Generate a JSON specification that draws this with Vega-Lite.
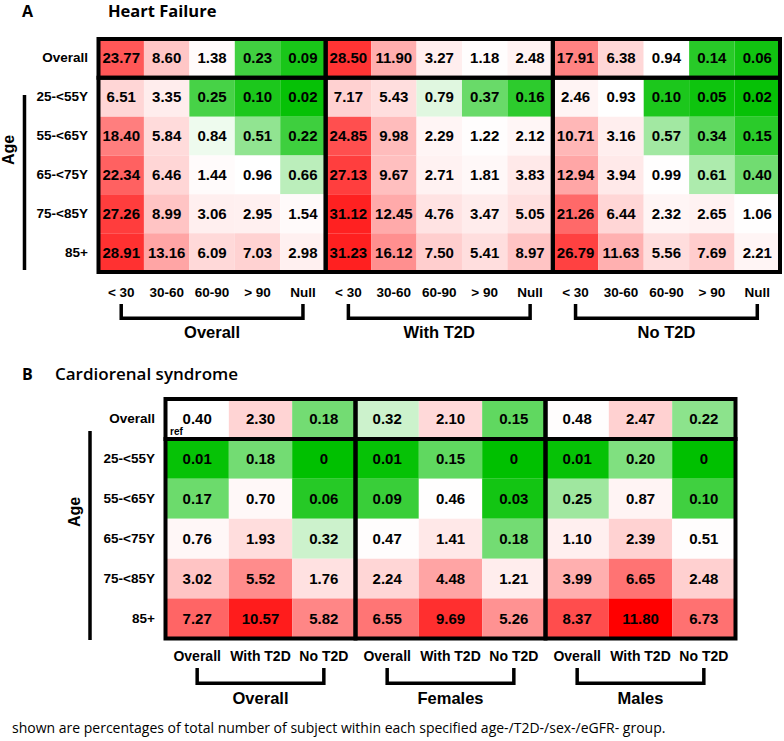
{
  "$schema": "https://vega.github.io/schema/vega-lite/v6.json",
  "width": 784,
  "height": 741,
  "autosize": {"type": "fit", "contains": "padding"},
  "padding": 0,
  "background": "white",
  "config": {"view": {"stroke": null}, "axis": {"disable": true}, "text": {"font": "Liberation Sans", "color": "black"}},
  "datasets": {
    "hf": [
      {"grp": "Overall", "age": "Overall", "< 30": 23.77, "30-60": 8.60, "60-90": 1.38, "> 90": 0.23, "Null": 0.09},
      {"grp": "Overall", "age": "25-<55Y", "< 30": 6.51, "30-60": 3.35, "60-90": 0.25, "> 90": 0.10, "Null": 0.02},
      {"grp": "Overall", "age": "55-<65Y", "< 30": 18.40, "30-60": 5.84, "60-90": 0.84, "> 90": 0.51, "Null": 0.22},
      {"grp": "Overall", "age": "65-<75Y", "< 30": 22.34, "30-60": 6.46, "60-90": 1.44, "> 90": 0.96, "Null": 0.66},
      {"grp": "Overall", "age": "75-<85Y", "< 30": 27.26, "30-60": 8.99, "60-90": 3.06, "> 90": 2.95, "Null": 1.54},
      {"grp": "Overall", "age": "85+", "< 30": 28.91, "30-60": 13.16, "60-90": 6.09, "> 90": 7.03, "Null": 2.98},
      {"grp": "With T2D", "age": "Overall", "< 30": 28.50, "30-60": 11.90, "60-90": 3.27, "> 90": 1.18, "Null": 2.48},
      {"grp": "With T2D", "age": "25-<55Y", "< 30": 7.17, "30-60": 5.43, "60-90": 0.79, "> 90": 0.37, "Null": 0.16},
      {"grp": "With T2D", "age": "55-<65Y", "< 30": 24.85, "30-60": 9.98, "60-90": 2.29, "> 90": 1.22, "Null": 2.12},
      {"grp": "With T2D", "age": "65-<75Y", "< 30": 27.13, "30-60": 9.67, "60-90": 2.71, "> 90": 1.81, "Null": 3.83},
      {"grp": "With T2D", "age": "75-<85Y", "< 30": 31.12, "30-60": 12.45, "60-90": 4.76, "> 90": 3.47, "Null": 5.05},
      {"grp": "With T2D", "age": "85+", "< 30": 31.23, "30-60": 16.12, "60-90": 7.50, "> 90": 5.41, "Null": 8.97},
      {"grp": "No T2D", "age": "Overall", "< 30": 17.91, "30-60": 6.38, "60-90": 0.94, "> 90": 0.14, "Null": 0.06},
      {"grp": "No T2D", "age": "25-<55Y", "< 30": 2.46, "30-60": 0.93, "60-90": 0.10, "> 90": 0.05, "Null": 0.02},
      {"grp": "No T2D", "age": "55-<65Y", "< 30": 10.71, "30-60": 3.16, "60-90": 0.57, "> 90": 0.34, "Null": 0.15},
      {"grp": "No T2D", "age": "65-<75Y", "< 30": 12.94, "30-60": 3.94, "60-90": 0.99, "> 90": 0.61, "Null": 0.40},
      {"grp": "No T2D", "age": "75-<85Y", "< 30": 21.26, "30-60": 6.44, "60-90": 2.32, "> 90": 2.65, "Null": 1.06},
      {"grp": "No T2D", "age": "85+", "< 30": 26.79, "30-60": 11.63, "60-90": 5.56, "> 90": 7.69, "Null": 2.21}
    ],
    "crs": [
      {"grp": "Overall", "age": "Overall", "Overall": 0.40, "With T2D": 2.30, "No T2D": 0.18},
      {"grp": "Overall", "age": "25-<55Y", "Overall": 0.01, "With T2D": 0.18, "No T2D": 0},
      {"grp": "Overall", "age": "55-<65Y", "Overall": 0.17, "With T2D": 0.70, "No T2D": 0.06},
      {"grp": "Overall", "age": "65-<75Y", "Overall": 0.76, "With T2D": 1.93, "No T2D": 0.32},
      {"grp": "Overall", "age": "75-<85Y", "Overall": 3.02, "With T2D": 5.52, "No T2D": 1.76},
      {"grp": "Overall", "age": "85+", "Overall": 7.27, "With T2D": 10.57, "No T2D": 5.82},
      {"grp": "Females", "age": "Overall", "Overall": 0.32, "With T2D": 2.10, "No T2D": 0.15},
      {"grp": "Females", "age": "25-<55Y", "Overall": 0.01, "With T2D": 0.15, "No T2D": 0},
      {"grp": "Females", "age": "55-<65Y", "Overall": 0.09, "With T2D": 0.46, "No T2D": 0.03},
      {"grp": "Females", "age": "65-<75Y", "Overall": 0.47, "With T2D": 1.41, "No T2D": 0.18},
      {"grp": "Females", "age": "75-<85Y", "Overall": 2.24, "With T2D": 4.48, "No T2D": 1.21},
      {"grp": "Females", "age": "85+", "Overall": 6.55, "With T2D": 9.69, "No T2D": 5.26},
      {"grp": "Males", "age": "Overall", "Overall": 0.48, "With T2D": 2.47, "No T2D": 0.22},
      {"grp": "Males", "age": "25-<55Y", "Overall": 0.01, "With T2D": 0.20, "No T2D": 0},
      {"grp": "Males", "age": "55-<65Y", "Overall": 0.25, "With T2D": 0.87, "No T2D": 0.10},
      {"grp": "Males", "age": "65-<75Y", "Overall": 1.10, "With T2D": 2.39, "No T2D": 0.51},
      {"grp": "Males", "age": "75-<85Y", "Overall": 3.99, "With T2D": 6.65, "No T2D": 2.48},
      {"grp": "Males", "age": "85+", "Overall": 8.37, "With T2D": 11.80, "No T2D": 6.73}
    ],
    "notes": [
      {"panel": "A", "letter": "A", "title": "Heart Failure", "axis": "Age"},
      {"panel": "B", "letter": "B", "title": "Cardiorenal syndrome", "axis": "Age", "ref": "ref", "footnote": "shown are percentages of total number of subject within each specified age-/T2D-/sex-/eGFR- group."}
    ]
  },
  "resolve": {"scale": {"x": "independent", "y": "independent", "xOffset": "independent", "color": "independent"}},
  "layer": [
    {
      "data": {"name": "hf"},
      "transform": [{"fold": ["< 30", "30-60", "60-90", "> 90", "Null"], "as": ["egfr", "v"]}],
      "encoding": {
        "x": {"field": "grp", "type": "nominal", "axis": null, "scale": {"type": "band", "domain": ["Overall", "With T2D", "No T2D"], "range": [98.5, 780], "paddingInner": 0, "paddingOuter": 0}},
        "xOffset": {"field": "egfr", "type": "nominal", "scale": {"type": "band", "domain": ["< 30", "30-60", "60-90", "> 90", "Null"], "paddingInner": 0, "paddingOuter": 0}},
        "y": {"field": "age", "type": "nominal", "axis": null, "scale": {"type": "band", "domain": ["Overall", "25-<55Y", "55-<65Y", "65-<75Y", "75-<85Y", "85+"], "range": [39, 272], "paddingInner": 0, "paddingOuter": 0}}
      },
      "layer": [
        {"mark": {"type": "rect", "strokeWidth": 0}, "encoding": {"color": {"field": "v", "type": "quantitative", "legend": null, "scale": {"type": "linear", "domain": [0, 0.9, 31.23], "range": ["#00c000", "#ffffff", "#ff2020"], "interpolate": "rgb"}}}},
        {"mark": {"type": "text", "fontWeight": "bold", "fontSize": 15, "baseline": "middle"}, "encoding": {"text": {"field": "v", "type": "quantitative", "format": ".2f"}}}
      ]
    },
    {
      "data": {"name": "hf"},
      "transform": [{"filter": "datum.age === 'Overall'"}, {"fold": ["< 30", "30-60", "60-90", "> 90", "Null"], "as": ["egfr", "v"]}],
      "encoding": {
        "x": {"field": "grp", "type": "nominal", "axis": null, "scale": {"type": "band", "domain": ["Overall", "With T2D", "No T2D"], "range": [98.5, 780], "paddingInner": 0, "paddingOuter": 0}}
      },
      "layer": [
        {"mark": {"type": "text", "fontWeight": "bold", "fontSize": 13.5, "baseline": "middle"},
         "encoding": {"xOffset": {"field": "egfr", "type": "nominal", "scale": {"type": "band", "domain": ["< 30", "30-60", "60-90", "> 90", "Null"], "paddingInner": 0, "paddingOuter": 0}},
                      "y": {"datum": 6.541, "type": "quantitative", "axis": null, "scale": {"type": "linear", "domain": [0, 6], "range": [39, 272], "nice": false, "zero": false}},
                      "text": {"field": "egfr"}}},
        {"transform": [{"filter": "datum.egfr === '< 30' || datum.egfr === 'Null'"}],
         "mark": {"type": "rule", "strokeWidth": 3.5, "color": "black"},
         "encoding": {"xOffset": {"field": "egfr", "type": "nominal", "scale": {"type": "band", "domain": ["< 30", "30-60", "60-90", "> 90", "Null"], "paddingInner": 0, "paddingOuter": 0}},
                      "y": {"datum": 6.824, "type": "quantitative", "axis": null, "scale": {"type": "linear", "domain": [0, 6], "range": [39, 272], "nice": false, "zero": false}},
                      "y2": {"datum": 7.236}}},
        {"transform": [{"filter": "datum.egfr === '< 30'"}],
         "mark": {"type": "rect", "fillOpacity": 0, "stroke": "black", "strokeWidth": 4},
         "encoding": {"y": {"datum": 0, "type": "quantitative", "axis": null, "scale": {"type": "linear", "domain": [0, 6], "range": [39, 272], "nice": false, "zero": false}}, "y2": {"datum": 1}}},
        {"transform": [{"filter": "datum.egfr === '< 30'"}],
         "mark": {"type": "rect", "fillOpacity": 0, "stroke": "black", "strokeWidth": 4},
         "encoding": {"y": {"datum": 1, "type": "quantitative", "axis": null, "scale": {"type": "linear", "domain": [0, 6], "range": [39, 272], "nice": false, "zero": false}}, "y2": {"datum": 6}}}
      ]
    },
    {
      "data": {"name": "hf"},
      "transform": [{"filter": "datum.age === 'Overall'"}],
      "encoding": {
        "x": {"field": "grp", "type": "nominal", "axis": null, "scale": {"type": "band", "domain": ["Overall", "With T2D", "No T2D"], "range": [121.2, 757.3], "paddingInner": 0.2, "paddingOuter": 0}}
      },
      "layer": [
        {"mark": {"type": "rect", "color": "black"},
         "encoding": {"y": {"datum": 7.146, "type": "quantitative", "axis": null, "scale": {"type": "linear", "domain": [0, 6], "range": [39, 272], "nice": false, "zero": false}}, "y2": {"datum": 7.236}}},
        {"mark": {"type": "text", "fontWeight": "bold", "fontSize": 16.5, "baseline": "middle"},
         "encoding": {"y": {"datum": 7.571, "type": "quantitative", "axis": null, "scale": {"type": "linear", "domain": [0, 6], "range": [39, 272], "nice": false, "zero": false}}, "text": {"field": "grp"}}}
      ]
    },
    {
      "data": {"name": "hf"},
      "transform": [{"filter": "datum.grp === 'Overall'"}],
      "mark": {"type": "text", "fontWeight": "bold", "fontSize": 13.5, "align": "right", "baseline": "middle"},
      "encoding": {
        "x": {"datum": -0.231, "type": "quantitative", "axis": null, "scale": {"type": "linear", "domain": [0, 15], "range": [98.5, 780], "nice": false, "zero": false}},
        "y": {"field": "age", "type": "nominal", "axis": null, "scale": {"type": "band", "domain": ["Overall", "25-<55Y", "55-<65Y", "65-<75Y", "75-<85Y", "85+"], "range": [39, 272], "paddingInner": 0, "paddingOuter": 0}},
        "text": {"field": "age"}
      }
    },
    {
      "data": {"name": "notes"},
      "transform": [{"filter": "datum.panel === 'A'"}],
      "layer": [
        {"mark": {"type": "text", "font": "Open Sans", "fontWeight": "bold", "fontSize": 16, "baseline": "alphabetic"},
         "encoding": {"x": {"datum": -1.563, "type": "quantitative", "axis": null, "scale": {"type": "linear", "domain": [0, 15], "range": [98.5, 780], "nice": false, "zero": false}},
                      "y": {"datum": -0.579, "type": "quantitative", "axis": null, "scale": {"type": "linear", "domain": [0, 6], "range": [39, 272], "nice": false, "zero": false}},
                      "text": {"field": "letter"}}},
        {"mark": {"type": "text", "font": "Open Sans", "fontWeight": "bold", "fontSize": 16.5, "align": "left", "baseline": "alphabetic"},
         "encoding": {"x": {"datum": 0.209, "type": "quantitative"}, "y": {"datum": -0.579, "type": "quantitative"}, "text": {"field": "title"}}},
        {"mark": {"type": "text", "fontWeight": "bold", "fontSize": 16, "angle": 270, "baseline": "middle"},
         "encoding": {"x": {"datum": -1.97, "type": "quantitative"}, "y": {"datum": 2.858, "type": "quantitative"}, "text": {"field": "axis"}}},
        {"mark": {"type": "rule", "strokeWidth": 3.5, "color": "black"},
         "encoding": {"x": {"datum": -1.629, "type": "quantitative"}, "y": {"datum": 1.442, "type": "quantitative"}, "y2": {"datum": 5.948}}}
      ]
    },
    {
      "data": {"name": "crs"},
      "transform": [{"fold": ["Overall", "With T2D", "No T2D"], "as": ["sub", "v"]}],
      "encoding": {
        "x": {"field": "grp", "type": "nominal", "axis": null, "scale": {"type": "band", "domain": ["Overall", "Females", "Males"], "range": [165.5, 735.5], "paddingInner": 0, "paddingOuter": 0}},
        "xOffset": {"field": "sub", "type": "nominal", "scale": {"type": "band", "domain": ["Overall", "With T2D", "No T2D"], "paddingInner": 0, "paddingOuter": 0}},
        "y": {"field": "age", "type": "nominal", "axis": null, "scale": {"type": "band", "domain": ["Overall", "25-<55Y", "55-<65Y", "65-<75Y", "75-<85Y", "85+"], "range": [399, 638.5], "paddingInner": 0, "paddingOuter": 0}}
      },
      "layer": [
        {"mark": {"type": "rect", "strokeWidth": 0}, "encoding": {"color": {"field": "v", "type": "quantitative", "legend": null, "scale": {"type": "linear", "domain": [0, 0.4, 11.8], "range": ["#00c000", "#ffffff", "#ff0000"], "interpolate": "rgb"}}}},
        {"mark": {"type": "text", "fontWeight": "bold", "fontSize": 15, "baseline": "middle"}, "encoding": {"text": {"condition": {"test": "datum.v === 0", "value": "0"}, "field": "v", "type": "quantitative", "format": ".2f"}}}
      ]
    },
    {
      "data": {"name": "crs"},
      "transform": [{"filter": "datum.age === 'Overall'"}, {"fold": ["Overall", "With T2D", "No T2D"], "as": ["sub", "v"]}],
      "encoding": {
        "x": {"field": "grp", "type": "nominal", "axis": null, "scale": {"type": "band", "domain": ["Overall", "Females", "Males"], "range": [165.5, 735.5], "paddingInner": 0, "paddingOuter": 0}}
      },
      "layer": [
        {"mark": {"type": "text", "fontWeight": "bold", "fontSize": 14, "baseline": "middle"},
         "encoding": {"xOffset": {"field": "sub", "type": "nominal", "scale": {"type": "band", "domain": ["Overall", "With T2D", "No T2D"], "paddingInner": 0, "paddingOuter": 0}},
                      "y": {"datum": 6.463, "type": "quantitative", "axis": null, "scale": {"type": "linear", "domain": [0, 6], "range": [399, 638.5], "nice": false, "zero": false}},
                      "text": {"field": "sub"}}},
        {"transform": [{"filter": "datum.sub === 'Overall' || datum.sub === 'No T2D'"}],
         "mark": {"type": "rule", "strokeWidth": 3.5, "color": "black"},
         "encoding": {"xOffset": {"field": "sub", "type": "nominal", "scale": {"type": "band", "domain": ["Overall", "With T2D", "No T2D"], "paddingInner": 0, "paddingOuter": 0}},
                      "y": {"datum": 6.739, "type": "quantitative", "axis": null, "scale": {"type": "linear", "domain": [0, 6], "range": [399, 638.5], "nice": false, "zero": false}},
                      "y2": {"datum": 7.165}}},
        {"transform": [{"filter": "datum.sub === 'Overall'"}],
         "mark": {"type": "rect", "fillOpacity": 0, "stroke": "black", "strokeWidth": 4},
         "encoding": {"y": {"datum": 0, "type": "quantitative", "axis": null, "scale": {"type": "linear", "domain": [0, 6], "range": [399, 638.5], "nice": false, "zero": false}}, "y2": {"datum": 1}}},
        {"transform": [{"filter": "datum.sub === 'Overall'"}],
         "mark": {"type": "rect", "fillOpacity": 0, "stroke": "black", "strokeWidth": 4},
         "encoding": {"y": {"datum": 1, "type": "quantitative", "axis": null, "scale": {"type": "linear", "domain": [0, 6], "range": [399, 638.5], "nice": false, "zero": false}}, "y2": {"datum": 6}}}
      ]
    },
    {
      "data": {"name": "crs"},
      "transform": [{"filter": "datum.age === 'Overall'"}],
      "encoding": {
        "x": {"field": "grp", "type": "nominal", "axis": null, "scale": {"type": "band", "domain": ["Overall", "Females", "Males"], "range": [197.17, 703.83], "paddingInner": 0.3333, "paddingOuter": 0}}
      },
      "layer": [
        {"mark": {"type": "rect", "color": "black"},
         "encoding": {"y": {"datum": 7.077, "type": "quantitative", "axis": null, "scale": {"type": "linear", "domain": [0, 6], "range": [399, 638.5], "nice": false, "zero": false}}, "y2": {"datum": 7.165}}},
        {"mark": {"type": "text", "fontWeight": "bold", "fontSize": 16.5, "baseline": "middle"},
         "encoding": {"y": {"datum": 7.516, "type": "quantitative", "axis": null, "scale": {"type": "linear", "domain": [0, 6], "range": [399, 638.5], "nice": false, "zero": false}}, "text": {"field": "grp"}}}
      ]
    },
    {
      "data": {"name": "crs"},
      "transform": [{"filter": "datum.grp === 'Overall'"}],
      "mark": {"type": "text", "fontWeight": "bold", "fontSize": 13.5, "align": "right", "baseline": "middle"},
      "encoding": {
        "x": {"datum": -0.166, "type": "quantitative", "axis": null, "scale": {"type": "linear", "domain": [0, 9], "range": [165.5, 735.5], "nice": false, "zero": false}},
        "y": {"field": "age", "type": "nominal", "axis": null, "scale": {"type": "band", "domain": ["Overall", "25-<55Y", "55-<65Y", "65-<75Y", "75-<85Y", "85+"], "range": [399, 638.5], "paddingInner": 0, "paddingOuter": 0}},
        "text": {"field": "age"}
      }
    },
    {
      "data": {"name": "notes"},
      "transform": [{"filter": "datum.panel === 'B'"}],
      "layer": [
        {"mark": {"type": "text", "font": "Open Sans", "fontWeight": "bold", "fontSize": 16, "baseline": "alphabetic"},
         "encoding": {"x": {"datum": -2.179, "type": "quantitative", "axis": null, "scale": {"type": "linear", "domain": [0, 9], "range": [165.5, 735.5], "nice": false, "zero": false}},
                      "y": {"datum": -0.476, "type": "quantitative", "axis": null, "scale": {"type": "linear", "domain": [0, 6], "range": [399, 638.5], "nice": false, "zero": false}},
                      "text": {"field": "letter"}}},
        {"mark": {"type": "text", "font": "Open Sans", "fontWeight": 600, "fontSize": 17, "align": "left", "baseline": "alphabetic"},
         "encoding": {"x": {"datum": -1.745, "type": "quantitative"}, "y": {"datum": -0.476, "type": "quantitative"}, "text": {"field": "title"}}},
        {"mark": {"type": "text", "fontWeight": "bold", "fontSize": 16, "angle": 270, "baseline": "middle"},
         "encoding": {"x": {"datum": -1.429, "type": "quantitative"}, "y": {"datum": 2.831, "type": "quantitative"}, "text": {"field": "axis"}}},
        {"mark": {"type": "rule", "strokeWidth": 3.5, "color": "black"},
         "encoding": {"x": {"datum": -1.192, "type": "quantitative"}, "y": {"datum": 0.802, "type": "quantitative"}, "y2": {"datum": 6.038}}},
        {"mark": {"type": "text", "fontWeight": "bold", "fontSize": 10, "align": "left", "baseline": "alphabetic"},
         "encoding": {"x": {"datum": 0.071, "type": "quantitative"}, "y": {"datum": 0.902, "type": "quantitative"}, "text": {"field": "ref"}}},
        {"mark": {"type": "text", "font": "Open Sans", "fontSize": 14, "align": "left", "baseline": "middle"},
         "encoding": {"x": {"datum": -2.424, "type": "quantitative"}, "y": {"datum": 8.267, "type": "quantitative"}, "text": {"field": "footnote"}}}
      ]
    }
  ]
}
